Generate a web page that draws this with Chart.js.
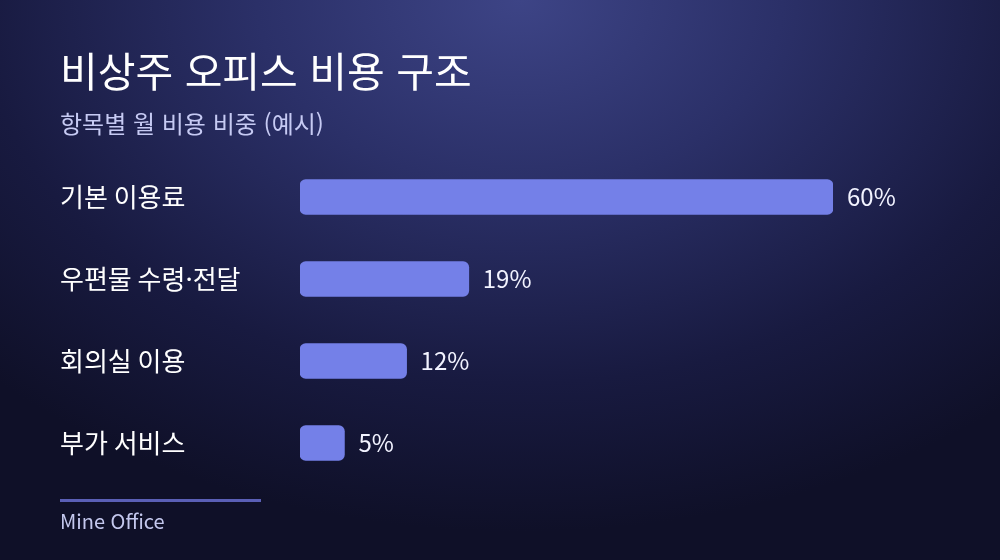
<!DOCTYPE html>
<html lang="ko">
<head>
<meta charset="utf-8">
<script src="https://cdn.jsdelivr.net/npm/chart.js@4"></script>
<style>
  html, body { margin: 0; padding: 0; }
  body {
    width: 1000px; height: 560px; overflow: hidden; position: relative;
    background: radial-gradient(ellipse 75% 95% at 52% 0%, #3d4486 0%, #2b3068 35%, #181a40 72%, #0f1028 100%);
    font-family: "Noto Sans CJK KR", "Noto Sans", sans-serif;
  }
  #wrap { position: absolute; left: 0; top: 0; width: 1000px; height: 560px; }
  .title { position: absolute; left: 60px; top: 49px; font-size: 41px; line-height: 1; color: #ffffff; font-weight: 400; }
  .sub { position: absolute; left: 60px; top: 111px; font-size: 24px; line-height: 1; color: #c6caf3; }
  .rule { position: absolute; left: 60px; top: 499px; width: 201px; height: 3px; background: #5a5fb6; }
  .brand { position: absolute; left: 60px; top: 511px; font-size: 20px; line-height: 1; color: #c4c8ee; }
</style>
</head>
<body>
<div id="wrap"><canvas id="costChart" width="1000" height="560"></canvas></div>
<div class="title">비상주 오피스 비용 구조</div>
<div class="sub">항목별 월 비용 비중 (예시)</div>
<div class="rule"></div>
<div class="brand">Mine Office</div>
<script>
"use strict";
// data
const categories = ['기본 이용료', '우편물 수령·전달', '회의실 이용', '부가 서비스'];
const shares = [60, 19, 12, 5];

const fontFamily = '"Noto Sans CJK KR", "Noto Sans", sans-serif';

// writes the percentage just right of each bar
const valueLabels = {
    id: 'valueLabels',
    afterDatasetsDraw(chart) {
        const ctx = chart.ctx;
        const meta = chart.getDatasetMeta(0);
        ctx.save();
        ctx.font = '24px ' + fontFamily;
        ctx.fillStyle = '#f2f3ff';
        ctx.textAlign = 'left';
        ctx.textBaseline = 'middle';
        meta.data.forEach((bar, i) => {
            ctx.fillText(shares[i] + '%', bar.x + 14, bar.y);
        });
        ctx.restore();
    }
};

const ctx = document.getElementById('costChart').getContext('2d');
new Chart(ctx, {
    type: 'bar',
    data: {
        labels: categories,
        datasets: [{
            data: shares,
            backgroundColor: '#7480e8',
            borderRadius: 6,
            borderSkipped: false,
            barThickness: 35
        }]
    },
    options: {
        indexAxis: 'y',
        responsive: false,
        animation: false,
        layout: { padding: { left: 60, right: 167, top: 156, bottom: 76 } },
        plugins: {
            legend: { display: false },
            tooltip: { enabled: false }
        },
        scales: {
            x: {
                display: false,
                min: 0,
                max: 60
            },
            y: {
                grid: { display: false },
                border: { display: false },
                afterFit(scale) { scale.width = 240; },
                ticks: {
                    crossAlign: 'far',
                    color: '#ffffff',
                    padding: 0,
                    font: { family: fontFamily, size: 26 }
                }
            }
        }
    },
    plugins: [valueLabels]
});
</script>
</body>
</html>
